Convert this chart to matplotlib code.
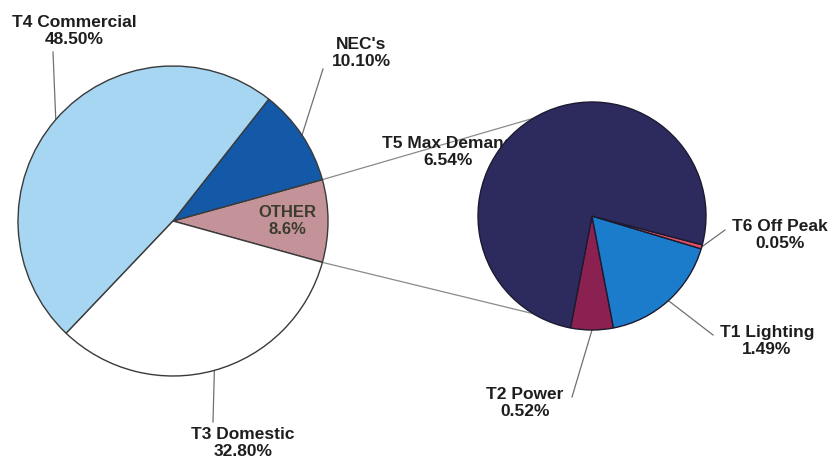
import numpy as np
import matplotlib
matplotlib.use('Agg')
import matplotlib.pyplot as plt

# ---- data ----
main_labels = ['OTHER', "NEC's", 'T4 Commercial', 'T3 Domestic']
main_values = [8.6, 10.10, 48.50, 32.80]
main_pct = ['8.6%', '10.10%', '48.50%', '32.80%']
main_colors = ['#c4939a', '#1458a8', '#a6d6f2', '#ffffff']

sub_labels = ['T2 Power', 'T1 Lighting', 'T6 Off Peak', 'T5 Max Demand']
sub_values = [0.52, 1.49, 0.05, 6.54]
sub_pct = ['0.52%', '1.49%', '0.05%', '6.54%']
sub_colors = ['#8a2150', '#1c7ccc', '#e05060', '#2d2a5e']

W, H = 830, 461
plt.rcParams['font.family'] = ['Liberation Sans', 'DejaVu Sans']
fig = plt.figure(figsize=(W / 100, H / 100), dpi=100)
ax = fig.add_axes([0, 0, 1, 1])


def py(y):
    return H - y


c1 = (173, py(221)); r1 = 155
c2 = (592, py(216)); r2 = 114

start1 = -main_values[0] * 360 / sum(main_values) / 2
start2 = -90 - sub_values[0] * 360 / sum(sub_values) / 2

w1, _ = ax.pie(main_values, colors=main_colors, startangle=start1, center=c1,
               radius=r1, frame=True,
               wedgeprops=dict(edgecolor='#3a3a3a', linewidth=1.0, zorder=2))
w2, _ = ax.pie(sub_values, colors=sub_colors, startangle=start2, center=c2,
               radius=r2, frame=True,
               wedgeprops=dict(edgecolor='#1c1a30', linewidth=1.0, zorder=2))

ax.set_xlim(0, W)
ax.set_ylim(0, H)
ax.set_aspect('equal')
ax.axis('off')


def edge(c, r, ang, f=1.0):
    a = np.deg2rad(ang)
    return c[0] + f * r * np.cos(a), c[1] + f * r * np.sin(a)


def mid(w):
    return (w.theta1 + w.theta2) / 2


fs = 12.5
tcol = '#1e1e1e'
lcol = '#707070'

# connector lines between pies
other = w1[0]
p_top = edge(c1, r1, other.theta2)
p_bot = edge(c1, r1, other.theta1)
q_top = edge(c2, r2, 121)
q_bot = edge(c2, r2, 239)
ax.plot([p_top[0], q_top[0]], [p_top[1], q_top[1]], color='#8a8a8a', lw=0.9, zorder=0.5)
ax.plot([p_bot[0], q_bot[0]], [p_bot[1], q_bot[1]], color='#8a8a8a', lw=0.9, zorder=0.5)

# OTHER label inside slice
ox, oy = edge(c1, r1, mid(other), 0.74)
ax.text(ox, oy, f"{main_labels[0]}\n{main_pct[0]}", ha='center', va='center',
        fontsize=fs - 0.5, fontweight='bold', color='#3b3b30', linespacing=1.1, zorder=3)

# outer labels: (text center px, leader end px)
main_pos = {1: ((361, 53), (323, 69)),
            2: ((74, 31), (53, 52)),
            3: ((243, 443), (213, 422))}
for i, ((tx, ty), (lx, ly)) in main_pos.items():
    ex, ey = edge(c1, r1, mid(w1[i]))
    ax.plot([ex, lx], [ey, py(ly)], color=lcol, lw=0.9, zorder=1)
    ax.text(tx, py(ty), f"{main_labels[i]}\n{main_pct[i]}", ha='center', va='center',
            fontsize=fs, fontweight='bold', color=tcol, linespacing=1.15, zorder=3)

sub_pos = {0: ((525, 403), (572, 397)),
           1: ((767, 341), (713, 335)),
           2: ((780, 235), (725, 230))}
for i, ((tx, ty), (lx, ly)) in sub_pos.items():
    ex, ey = edge(c2, r2, mid(w2[i]))
    ax.plot([ex, lx], [ey, py(ly)], color=lcol, lw=0.9, zorder=1)
    ax.text(tx, py(ty), f"{sub_labels[i]}\n{sub_pct[i]}", ha='center', va='center',
            fontsize=fs, fontweight='bold', color=tcol, linespacing=1.15, zorder=3)

# T5 label sits partly beneath the pie
ax.text(448, py(152), f"{sub_labels[3]}\n{sub_pct[3]}", ha='center', va='center',
        fontsize=fs, fontweight='bold', color=tcol, linespacing=1.15, zorder=1)

fig.savefig('out.png', dpi=100, facecolor='white')
